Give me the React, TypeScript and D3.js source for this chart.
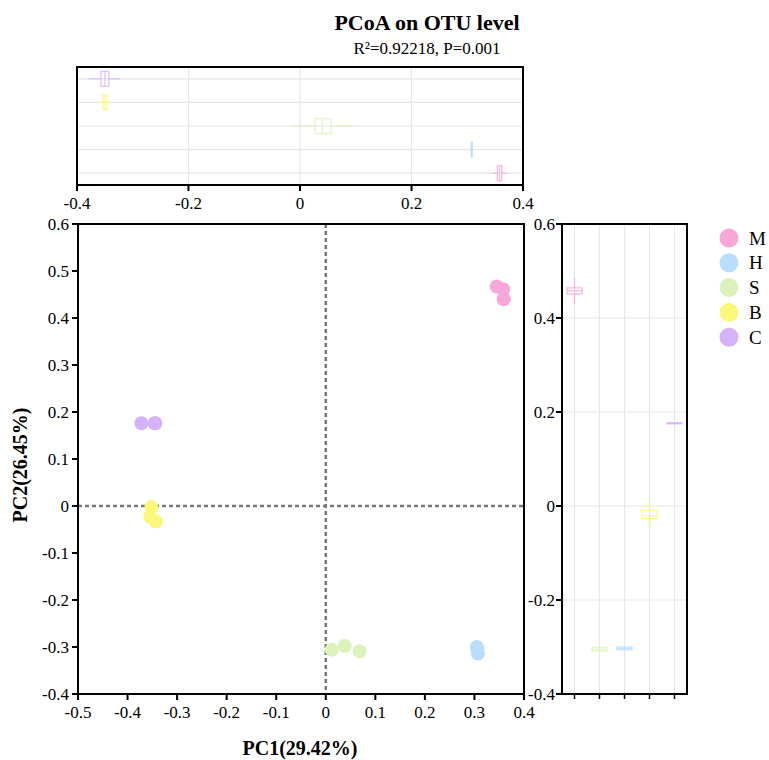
import React from "react";
import * as d3 from "d3";

const groups = ["M", "H", "S", "B", "C"];
const groupColors = ["#F7A8D8", "#B8DEFB", "#DDF2BA", "#FBF879", "#D5B2FA"];

// samples
const sampleGroup = ["M", "M", "M", "H", "H", "H", "S", "S", "S", "B", "B", "B", "C", "C", "C"];
const samplePC1 = [0.345, 0.358, 0.359, 0.305, 0.306, 0.307, 0.012, 0.038, 0.068, -0.352, -0.354, -0.343, -0.372, -0.345, -0.344];
const samplePC2 = [0.467, 0.461, 0.44, -0.3, -0.303, -0.314, -0.306, -0.298, -0.309, -0.002, -0.023, -0.033, 0.176, 0.176, 0.176];

// boxplot stats [min, q1, median, q3, max]
const pc1BoxOrder = ["C", "B", "S", "H", "M"];
const pc1BoxM = [0.344, 0.354, 0.358, 0.362, 0.371];
const pc1BoxH = [0.306, 0.307, 0.308, 0.309, 0.31];
const pc1BoxS = [-0.015, 0.027, 0.04, 0.056, 0.097];
const pc1BoxB = [-0.361, -0.353, -0.35, -0.346, -0.34];
const pc1BoxC = [-0.379, -0.357, -0.35, -0.343, -0.322];

const pc2BoxOrder = ["M", "S", "H", "B", "C"];
const pc2BoxM = [0.43, 0.451, 0.458, 0.464, 0.486];
const pc2BoxH = [-0.307, -0.306, -0.303, -0.3, -0.299];
const pc2BoxS = [-0.31, -0.309, -0.305, -0.301, -0.3];
const pc2BoxB = [-0.048, -0.027, -0.021, -0.009, 0.013];
const pc2BoxC = [0.175, 0.176, 0.176, 0.177, 0.177];

const mainXTicks = [-0.5, -0.4, -0.3, -0.2, -0.1, 0, 0.1, 0.2, 0.3, 0.4];
const mainYTicks = [0.6, 0.5, 0.4, 0.3, 0.2, 0.1, 0, -0.1, -0.2, -0.3, -0.4];
const topXTicks = [-0.4, -0.2, 0, 0.2, 0.4];
const rightYTicks = [0.6, 0.4, 0.2, 0, -0.2, -0.4];

const titleText = "PCoA on OTU level";
const subtitleText = "R\u00B2=0.92218, P=0.001";
const xLabel = "PC1(29.42%)";
const yLabel = "PC2(26.45%)";

const pc1Box: Record<string, number[]> = { M: pc1BoxM, H: pc1BoxH, S: pc1BoxS, B: pc1BoxB, C: pc1BoxC };
const pc2Box: Record<string, number[]> = { M: pc2BoxM, H: pc2BoxH, S: pc2BoxS, B: pc2BoxB, C: pc2BoxC };

const FONT = "'Liberation Serif', 'Times New Roman', serif";
const fmt = (v: number) => (Math.abs(v) < 1e-9 ? "0" : String(+v.toFixed(2)));

export default function App() {
  const W = 769, H = 760;
  const color = d3.scaleOrdinal<string, string>().domain(groups).range(groupColors);

  // main
  const mx = d3.scaleLinear().domain([-0.5, 0.4]).range([78, 524]);
  const my = d3.scaleLinear().domain([0.6, -0.4]).range([224, 694]);
  // top
  const tx = d3.scaleLinear().domain([-0.4, 0.4]).range([77, 523]);
  const ty = d3.scalePoint<string>().domain(pc1BoxOrder).range([67, 185]).padding(0.5);
  // right
  const rx = d3.scalePoint<string>().domain(pc2BoxOrder).range([562, 687]).padding(0.5);
  const ry = my;

  const grid = "#e6e6e6";
  const tickFs = 17;

  return (
    <svg width={W} height={H} style={{ position: "absolute", left: 0, top: 0, background: "#fff" }} fontFamily={FONT}>
      {/* title */}
      <text x={427} y={30} textAnchor="middle" fontSize={22} fontWeight="bold">{titleText}</text>
      <text x={427} y={54} textAnchor="middle" fontSize={17}>{subtitleText}</text>

      {/* top panel */}
      <g>
        {topXTicks.slice(1, -1).map((t) => (
          <line key={"tg" + t} x1={tx(t)} x2={tx(t)} y1={67} y2={185} stroke={grid} strokeWidth={1.2} />
        ))}
        {pc1BoxOrder.map((g) => (
          <line key={"tgh" + g} x1={77} x2={523} y1={ty(g)} y2={ty(g)} stroke={grid} strokeWidth={1.2} />
        ))}
        {pc1BoxOrder.map((g) => {
          const s = pc1Box[g];
          const cy = ty(g)!;
          const h = 15;
          const c = color(g);
          return (
            <g key={"tb" + g} stroke={c} strokeWidth={1.3} strokeOpacity={0.8} fill="none">
              <line x1={tx(s[0])} x2={tx(s[1])} y1={cy} y2={cy} />
              <line x1={tx(s[3])} x2={tx(s[4])} y1={cy} y2={cy} />
              <rect x={tx(s[1])} y={cy - h / 2} width={Math.max(tx(s[3]) - tx(s[1]), 1)} height={h} />
              <line x1={tx(s[2])} x2={tx(s[2])} y1={cy - h / 2} y2={cy + h / 2} />
            </g>
          );
        })}
        <rect x={77} y={67} width={446} height={118} fill="none" stroke="#000" strokeWidth={2} />
        {topXTicks.map((t) => (
          <g key={"tt" + t}>
            <line x1={tx(t)} x2={tx(t)} y1={185} y2={191} stroke="#000" strokeWidth={2} />
            <text x={tx(t)} y={209} textAnchor="middle" fontSize={tickFs}>{fmt(t)}</text>
          </g>
        ))}
      </g>

      {/* main panel */}
      <g>
        <line x1={mx(0)} x2={mx(0)} y1={224} y2={694} stroke="#777" strokeWidth={2.5} strokeDasharray="4,3" />
        <line x1={78} x2={524} y1={my(0)} y2={my(0)} stroke="#777" strokeWidth={2.5} strokeDasharray="4,3" />
        {samplePC1.map((v, i) => (
          <circle key={"p" + i} cx={mx(v)} cy={my(samplePC2[i])} r={7} fill={color(sampleGroup[i])} />
        ))}
        <rect x={78} y={224} width={446} height={470} fill="none" stroke="#000" strokeWidth={2} />
        {mainXTicks.map((t) => (
          <g key={"mx" + t}>
            <line x1={mx(t)} x2={mx(t)} y1={694} y2={700} stroke="#000" strokeWidth={2} />
            <text x={mx(t)} y={718} textAnchor="middle" fontSize={tickFs}>{fmt(t)}</text>
          </g>
        ))}
        {mainYTicks.map((t) => (
          <g key={"my" + t}>
            <line x1={72} x2={78} y1={my(t)} y2={my(t)} stroke="#000" strokeWidth={2} />
            <text x={69} y={my(t)} dy="0.35em" textAnchor="end" fontSize={tickFs}>{fmt(t)}</text>
          </g>
        ))}
        <text x={300} y={755} textAnchor="middle" fontSize={20} fontWeight="bold">{xLabel}</text>
        <text transform={`translate(27,465) rotate(-90)`} textAnchor="middle" fontSize={20} fontWeight="bold">{yLabel}</text>
      </g>

      {/* right panel */}
      <g>
        {rightYTicks.slice(1, -1).map((t) => (
          <line key={"rg" + t} x1={562} x2={687} y1={ry(t)} y2={ry(t)} stroke={grid} strokeWidth={1.2} />
        ))}
        {pc2BoxOrder.map((g) => (
          <line key={"rgv" + g} x1={rx(g)} x2={rx(g)} y1={224} y2={694} stroke={grid} strokeWidth={1.2} />
        ))}
        {pc2BoxOrder.map((g) => {
          const s = pc2Box[g];
          const cx = rx(g)!;
          const w = 15;
          const c = color(g);
          return (
            <g key={"rb" + g} stroke={c} strokeWidth={1.3} strokeOpacity={0.8} fill="none">
              <line x1={cx} x2={cx} y1={ry(s[0])} y2={ry(s[1])} />
              <line x1={cx} x2={cx} y1={ry(s[3])} y2={ry(s[4])} />
              <rect x={cx - w / 2} y={ry(s[3])} width={w} height={Math.max(ry(s[1]) - ry(s[3]), 1)} />
              <line x1={cx - w / 2} x2={cx + w / 2} y1={ry(s[2])} y2={ry(s[2])} />
            </g>
          );
        })}
        <rect x={562} y={224} width={125} height={470} fill="none" stroke="#000" strokeWidth={2} />
        {rightYTicks.map((t) => (
          <g key={"ry" + t}>
            <line x1={556} x2={562} y1={ry(t)} y2={ry(t)} stroke="#000" strokeWidth={2} />
            <text x={555} y={ry(t)} dy="0.35em" textAnchor="end" fontSize={tickFs}>{fmt(t)}</text>
          </g>
        ))}
        {pc2BoxOrder.map((g) => (
          <line key={"rbt" + g} x1={rx(g)} x2={rx(g)} y1={694} y2={699} stroke="#000" strokeWidth={1.5} />
        ))}
      </g>

      {/* legend */}
      <g>
        {groups.map((g, i) => (
          <g key={"lg" + g} transform={`translate(729, ${238 + i * 24.8})`}>
            <circle r={9.5} fill={color(g)} />
            <text x={20} dy="0.35em" fontSize={19}>{g}</text>
          </g>
        ))}
      </g>
    </svg>
  );
}
